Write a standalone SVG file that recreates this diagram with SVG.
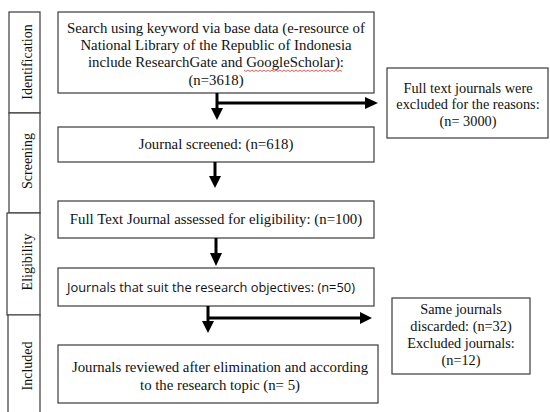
<svg xmlns="http://www.w3.org/2000/svg" width="550" height="412" viewBox="0 0 550 412">
<style>
.box{fill:#fff;stroke:#3a3a3a;stroke-width:1.2}
.side{fill:#fff;stroke:#3a3a3a;stroke-width:1.2}
.t{font-family:"Liberation Serif","Times New Roman",serif;font-size:14.8px;fill:#111;text-anchor:middle}
.x{font-size:14.3px}
.l{font-size:14px}
.s{font-family:"Open Sans","Noto Sans",sans-serif;font-size:12.5px;fill:#111;text-anchor:middle}
.ln{stroke:#000;stroke-width:3;fill:none}
.hd{fill:#000}
</style>
<rect width="550" height="412" fill="#fff"/>
<g id="stage-identification">
<rect class="side" x="9" y="12" width="31" height="101"/>
<text class="t l" transform="translate(32,62) rotate(-90)">Identification</text>
</g>
<g id="stage-screening">
<rect class="side" x="9" y="113" width="31" height="100"/>
<text class="t l" transform="translate(32,161) rotate(-90)">Screening</text>
</g>
<g id="stage-eligibility">
<rect class="side" x="7" y="213" width="33" height="102"/>
<text class="t l" transform="translate(32,262) rotate(-90)">Eligibility</text>
</g>
<g id="stage-included">
<path class="side" d="M8,412 V315 H40 V412"/>
<text class="t l" transform="translate(32,366) rotate(-90)">Included</text>
</g>
<g id="n-search">
<rect class="box" x="58" y="12" width="316" height="81"/>
<text class="t" x="216" y="33">Search using keyword via base data (e-resource of</text>
<text class="t" x="216" y="50">National Library of the Republic of Indonesia</text>
<text class="t" x="216" y="67">include ResearchGate and GoogleScholar):</text>
<text class="t" x="216" y="85">(n=3618)</text>
<path d="M244,70 l2,1.5 l2,-1.5 l2,1.5 l2,-1.5 l2,1.5 l2,-1.5 l2,1.5 l2,-1.5 l2,1.5 l2,-1.5 l2,1.5 l2,-1.5 l2,1.5 l2,-1.5 l2,1.5 l2,-1.5 l2,1.5 l2,-1.5 l2,1.5 l2,-1.5 l2,1.5 l2,-1.5 l2,1.5 l2,-1.5 l2,1.5 l2,-1.5 l2,1.5 l2,-1.5 l2,1.5 l2,-1.5 l2,1.5 l2,-1.5 l2,1.5 l2,-1.5 l2,1.5 l2,-1.5 l2,1.5 l2,-1.5 l2,1.5 l2,-1.5 l2,1.5 l2,-1.5 l2,1.5 l2,-1.5 l2,1.5 l2,-1.5 l2,1.5 l2,-1.5 l2,1.5" fill="none" stroke="#d33" stroke-width="0.8"/>
</g>
<g id="n-excluded1">
<rect class="box" x="387" y="68" width="161" height="70"/>
<text class="t x" x="468" y="93">Full text journals were</text>
<text class="t x" x="468" y="109">excluded for the reasons:</text>
<text class="t x" x="468" y="126">(n= 3000)</text>
</g>
<g id="n-screened">
<rect class="box" x="58" y="127" width="316" height="35"/>
<text class="t" x="216" y="149">Journal screened: (n=618)</text>
</g>
<g id="n-fulltext">
<rect class="box" x="58" y="201" width="316" height="37"/>
<text class="t" x="216" y="224">Full Text Journal assessed for eligibility: (n=100)</text>
</g>
<g id="n-suit">
<rect class="box" x="58" y="268" width="316" height="38"/>
<text class="s" x="211" y="292" textLength="288" lengthAdjust="spacingAndGlyphs">Journals that suit the research objectives: (n=50)</text>
</g>
<g id="n-excluded2">
<rect class="box" x="392" y="298" width="138" height="76"/>
<text class="t x" x="461" y="314">Same journals</text>
<text class="t x" x="461" y="331">discarded: (n=32)</text>
<text class="t x" x="461" y="348">Excluded journals:</text>
<text class="t x" x="461" y="365">(n=12)</text>
</g>
<g id="n-final">
<rect class="box" x="58" y="345" width="320" height="58"/>
<text class="t" x="220" y="372">Journals reviewed after elimination and according</text>
<text class="t" x="220" y="390">to the research topic (n= 5)</text>
</g>
<g id="connectors">
<path class="ln" d="M217,93 V109"/>
<polygon class="hd" points="211,108 223,108 217,120"/>
<path class="ln" d="M217,103 H366"/>
<polygon class="hd" points="365,97 365,109 378,103"/>
<path class="ln" d="M215,162 V177"/>
<polygon class="hd" points="209,176 221,176 215,188"/>
<path class="ln" d="M216,238 V254"/>
<polygon class="hd" points="210,253 222,253 216,266"/>
<path class="ln" d="M208,306 V322"/>
<polygon class="hd" points="202,321 214,321 208,333"/>
<path class="ln" d="M208,318 H361"/>
<polygon class="hd" points="360,312 360,324 372,318"/>
</g>
</svg>
